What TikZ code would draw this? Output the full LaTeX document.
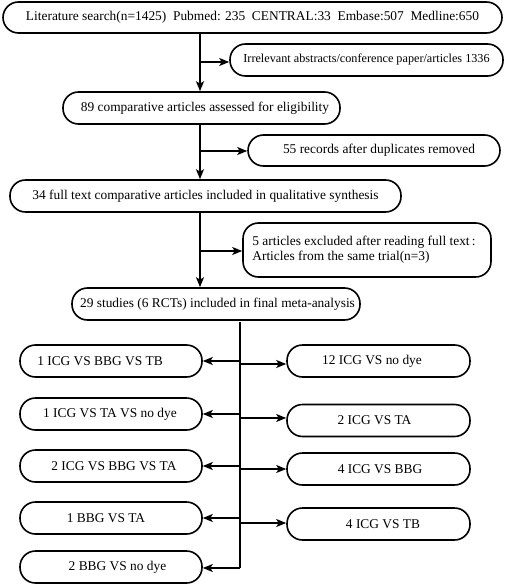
\documentclass[tikz,border=0pt]{standalone}
\usepackage{fontspec}
\setmainfont{Liberation Serif}
\usetikzlibrary{arrows.meta}
\begin{document}
\begin{tikzpicture}[x=1pt,y=-1pt,
  pill/.style={draw,line width=1.6pt,rounded corners=15.5pt,inner sep=0pt,
    minimum height=32pt,font=\fontsize{13.4}{16}\selectfont,align=center},
  arr/.style={line width=1.5pt,-{Stealth[length=10pt,width=8pt,inset=2.5pt]}},
  ln/.style={line width=1.5pt}]
\useasboundingbox (0,0) rectangle (511,588);
\node[pill,minimum width=499pt,minimum height=31pt] (b1) at (252.5,17.5) {Literature search(n=1425)\ \ Pubmed: 235\ \ CENTRAL:33\ \ Embase:507\ \ Medline:650};
\node[pill,minimum width=273pt,font=\fontsize{12.2}{14}\selectfont] (irr) at (366.5,60) {Irrelevant abstracts/conference paper/articles 1336};
\node[pill,minimum width=277pt] (b2) at (201.5,108) {\hspace{7pt}89 comparative articles assessed for eligibility};
\node[pill,minimum width=252pt,minimum height=31pt] (dup) at (374,150.5) {\hspace{10pt}55 records after duplicates removed};
\node[pill,minimum width=391pt] (b3) at (205.5,196) {34 full text comparative articles included in qualitative synthesis};
\node[pill,minimum width=248pt,minimum height=54pt] (exc) at (367,250) {\begin{tabular}{@{}l@{}}5 articles excluded after reading full text\,:\\[-1pt]Articles from the same trial(n=3)\end{tabular}\hspace{6pt}};
\node[pill,minimum width=288pt] (b4) at (216,304) {\hspace{3pt}29 studies (6 RCTs) included in final meta-analysis};
% left column
\node[pill,minimum width=182pt] (l1) at (111,361) {1 ICG VS BBG VS TB\hspace{22pt}};
\node[pill,minimum width=182pt] (l2) at (111,414) {1 ICG VS TA VS no dye\hspace{2pt}};
\node[pill,minimum width=182pt] (l3) at (111,466) {\hspace{6pt}2 ICG VS BBG VS TA};
\node[pill,minimum width=182pt] (l4) at (111,518) {1 BBG VS TA\hspace{10pt}};
\node[pill,minimum width=182pt] (l5) at (111,567) {\hspace{13pt}2 BBG VS no dye};
% right column
\node[pill,minimum width=183pt] (r1) at (378.5,361) {12 ICG VS no dye\hspace{13pt}};
\node[pill,minimum width=183pt] (r2) at (378.5,420.5) {2 ICG VS TA\hspace{8pt}};
\node[pill,minimum width=183pt] (r3) at (378.5,469) {\hspace{3pt}4 ICG VS BBG};
\node[pill,minimum width=183pt] (r4) at (378.5,524) {\hspace{9pt}4 ICG VS TB};
% upper spine
\coordinate (s1) at (200,62);
\coordinate (s2) at (200,151);
\coordinate (s3) at (200,251);
\draw[arr] (s1 |- b1.south) -- (s1 |- b2.north);
\draw[arr] (s1) -- (s1 -| irr.west);
\draw[arr] (s2 |- b2.south) -- (s2 |- b3.north);
\draw[arr] (s2) -- (s2 -| dup.west);
\draw[arr] (s3 |- b3.south) -- (s3 |- b4.north);
\draw[arr] (s3) -- (s3 -| exc.west);
% lower spine
\coordinate (t0) at (240,322);
\coordinate (t1) at (240,568);
\draw[ln] (t0) -- (t1);
\foreach \n in {l1,l2,l3,l4}{\draw[arr] (t0 |- \n.east) -- (\n.east);}
\draw[arr] (t1) -- (t1 -| l5.east);
\coordinate (u1) at (240,364);
\coordinate (u2) at (240,418);
\coordinate (u3) at (240,469);
\coordinate (u4) at (240,523);
\draw[arr] (u1) -- (u1 -| r1.west);
\draw[arr] (u2) -- (u2 -| r2.west);
\draw[arr] (u3) -- (u3 -| r3.west);
\draw[arr] (u4) -- (u4 -| r4.west);
\end{tikzpicture}
\end{document}
